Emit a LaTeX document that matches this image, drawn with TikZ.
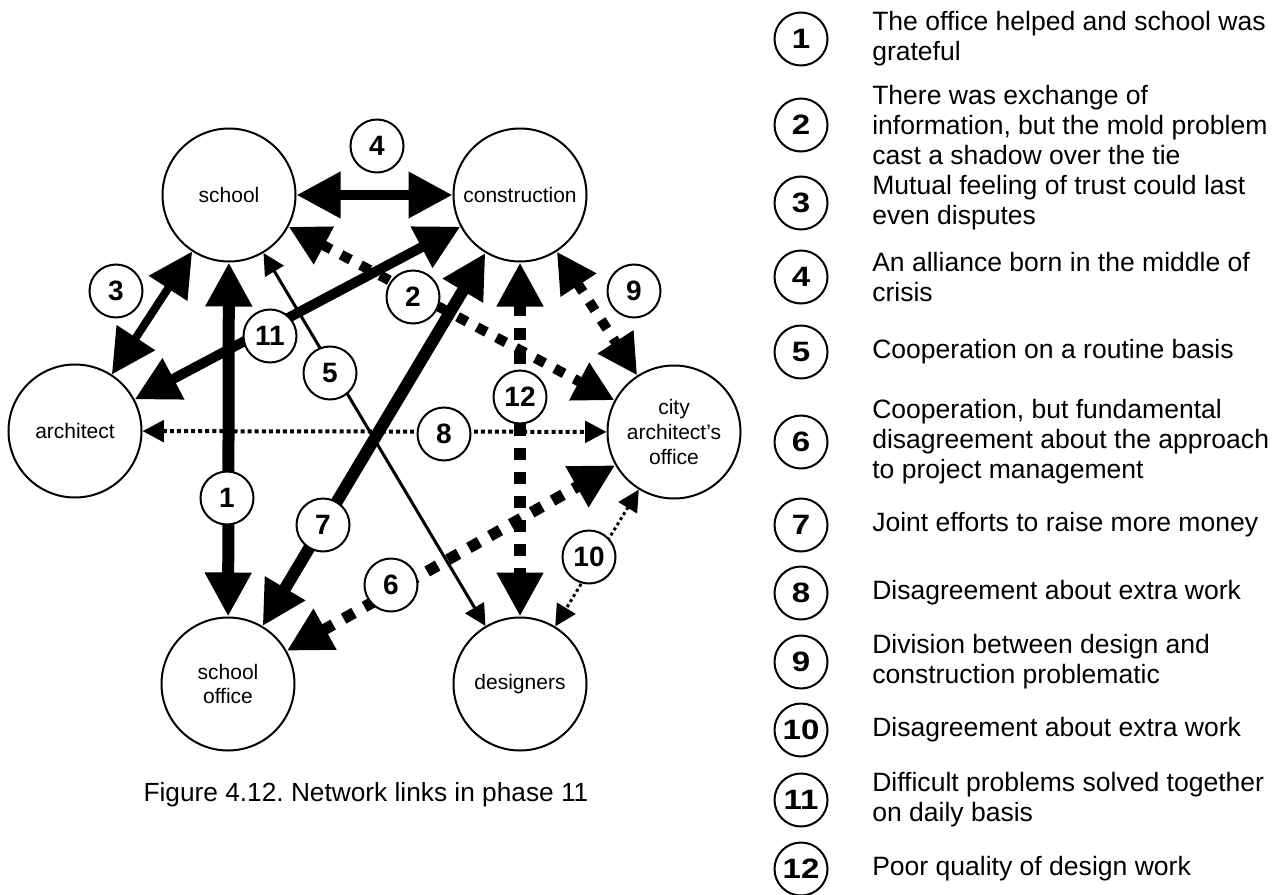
\documentclass[tikz,border=0pt]{standalone}
\usepackage{fontspec}
\setmainfont{Liberation Sans}
\usepackage{graphicx}
\usetikzlibrary{arrows.meta}
\frenchspacing

% key numbers are set slightly wide
\newcommand\keynum[1]{\scalebox{1.18}[1]{#1}}

\tikzset{
  actor/.style={circle, draw, line width=1.5pt, fill=white, minimum size=99.75pt,
    inner sep=0pt, align=center, font=\fontsize{15.75pt}{18.5pt}\selectfont},
  tag/.style={circle, draw, line width=1.5pt, fill=white, minimum size=39.75pt,
    inner sep=0pt, font=\fontsize{21pt}{21pt}\selectfont\bfseries},
  keytag/.style={circle, draw, line width=1.5pt, minimum size=39.75pt,
    inner sep=0pt, font=\fontsize{21pt}{21pt}\selectfont\bfseries},
  keytext/.style={anchor=west, align=left, inner sep=0pt,
    font=\fontsize{19.9pt}{22.5pt}\selectfont},
  bigarrows/.style={>={Triangle[length=33pt,width=33pt]}, <->},
  midarrows/.style={>={Triangle[length=30pt,width=30pt]}, <->},
  smallarrows/.style={>={Triangle[length=16pt,width=16pt]}, <->},
  solidheavy/.style={bigarrows, line width=9pt},
  solidbold/.style={bigarrows, line width=7.5pt},
  solidmid/.style={bigarrows, line width=6pt},
  solidthin/.style={smallarrows, line width=2.25pt},
  dashheavy/.style={bigarrows, line width=8.5pt, dash pattern=on 9pt off 9pt},
  dashmid/.style={midarrows, line width=7.5pt, dash pattern=on 8pt off 8.5pt},
  dotmid/.style={smallarrows, line width=3pt, dash pattern=on 3pt off 2.3pt},
  dotfine/.style={smallarrows, line width=2.25pt, dash pattern=on 2.25pt off 2.25pt},
}

\begin{document}
\begin{tikzpicture}[x=0.75pt, y=-0.75pt]
\useasboundingbox (0,0) rectangle (1281,895);

% actors of the network
\node[actor] (school)       at (229,195) {school};
\node[actor] (construction) at (520,195) {construction};
\node[actor] (architect)    at (75,431)  {architect};
\node[actor] (city)         at (674,432) {city\\architect’s\\office};
\node[actor] (schooloffice) at (228,684) {school\\office};
\node[actor] (designers)    at (520,684) {designers};

% links between the actors
\draw[solidheavy] (school) -- (schooloffice);        % 1
\draw[dashmid]    (school) -- (city);                % 2
\draw[solidmid]   (school) -- (architect);           % 3
\draw[solidbold]  (school) -- (construction);        % 4
\draw[solidthin]  (school) -- (designers);           % 5
\draw[dashheavy]  (schooloffice) -- (city);          % 6
\draw[solidheavy] (construction) -- (schooloffice);  % 7
\draw[dotmid]     (architect) -- (city);             % 8
\draw[dashmid]    (construction) -- (city);          % 9
\draw[dotfine]    (city) -- (designers);             % 10
\draw[solidbold]  (architect) -- (construction);     % 11
\draw[dashheavy]  (construction) -- (designers);     % 12

% numbered link tags
\node[tag] (t1)  at (227,498) {1};
\node[tag] (t2)  at (413,297) {2};
\node[tag] (t3)  at (116,291) {3};
\node[tag] (t4)  at (377,146) {4};
\node[tag] (t5)  at (330,373) {5};
\node[tag] (t6)  at (391,585) {6};
\node[tag] (t7)  at (323,525) {7};
\node[tag] (t8)  at (444,434) {8};
\node[tag] (t9)  at (634,291) {9};
\node[tag] (t10) at (589,557) {10};
\node[tag] (t11) at (270,336) {11};
\node[tag] (t12) at (520,397) {12};

% caption
\node[font=\fontsize{19.7pt}{22pt}\selectfont] (caption) at (366,795)
  {Figure 4.12. Network links in phase 11};

% key to the numbered links
\node[keytag] (k1)  at (801,39)  {\keynum{1}};
\node[keytag] (k2)  at (801,125) {\keynum{2}};
\node[keytag] (k3)  at (801,203) {\keynum{3}};
\node[keytag] (k4)  at (801,277) {\keynum{4}};
\node[keytag] (k5)  at (801,352) {\keynum{5}};
\node[keytag] (k6)  at (801,442) {\keynum{6}};
\node[keytag] (k7)  at (801,525) {\keynum{7}};
\node[keytag] (k8)  at (801,593) {\keynum{8}};
\node[keytag] (k9)  at (801,662) {\keynum{9}};
\node[keytag] (k10) at (801,730) {\keynum{10}};
\node[keytag] (k11) at (801,800) {\keynum{11}};
\node[keytag] (k12) at (801,869) {\keynum{12}};

\node[keytext] (d1)  at (872,39)  {The office helped and school was\\grateful};
\node[keytext] (d2)  at (872,125) {There was exchange of\\information, but the mold problem\\cast a shadow over the tie};
\node[keytext] (d3)  at (872,203) {Mutual feeling of trust could last\\even disputes};
\node[keytext] (d4)  at (872,277) {An alliance born in the middle of\\crisis};
\node[keytext] (d5)  at (872,352) {Cooperation on a routine basis};
\node[keytext] (d6)  at (872,442) {Cooperation, but fundamental\\disagreement about the approach\\to project management};
\node[keytext] (d7)  at (872,525) {Joint efforts to raise more money};
\node[keytext] (d8)  at (872,593) {Disagreement about extra work};
\node[keytext] (d9)  at (872,662) {Division between design and\\construction problematic};
\node[keytext] (d10) at (872,730) {Disagreement about extra work};
\node[keytext] (d11) at (872,800) {Difficult problems solved together\\on daily basis};
\node[keytext] (d12) at (872,869) {Poor quality of design work};
\end{tikzpicture}
\end{document}
